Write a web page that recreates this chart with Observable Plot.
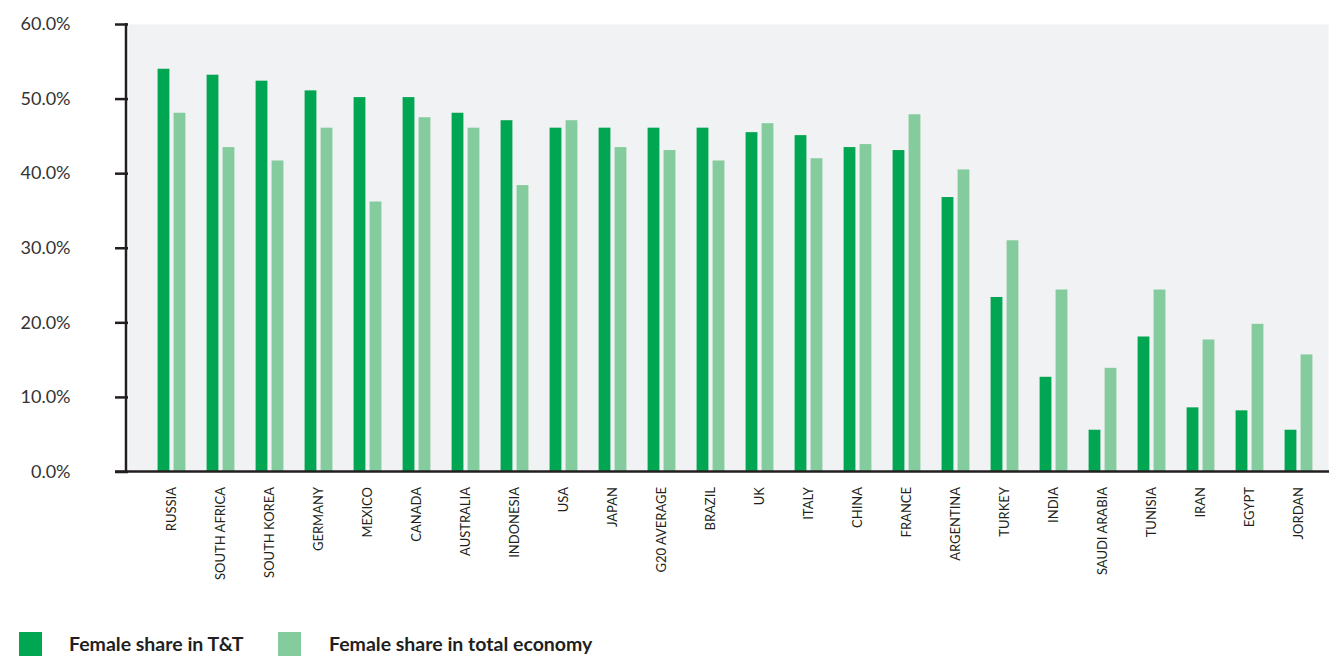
<!DOCTYPE html>
<html>
<head>
<meta charset="utf-8">
<script src="https://cdn.jsdelivr.net/npm/d3@7"></script>
<script src="https://cdn.jsdelivr.net/npm/@observablehq/plot@0.6"></script>
<style>
  html, body { margin: 0; padding: 0; background: #fff; }
  body { width: 1329px; height: 656px; overflow: hidden; font-family: Lato, "Open Sans", sans-serif; }
  #legend { position: relative; height: 31px; }
  .sw { position: absolute; top: 7px; width: 23px; height: 24px; }
  .lt { position: absolute; top: 7px; font-size: 19.5px; line-height: 24px; font-weight: bold; color: #231f20; }
</style>
</head>
<body>
<div id="chart"></div>
<div id="legend">
  <div class="sw" style="left:19px;background:#00a651"></div>
  <div class="lt" style="left:69px">Female share in T&amp;T</div>
  <div class="sw" style="left:278px;background:#84cb9d"></div>
  <div class="lt" style="left:329px">Female share in total economy</div>
</div>
<script>
const countries = ["RUSSIA","SOUTH AFRICA","SOUTH KOREA","GERMANY","MEXICO","CANADA","AUSTRALIA","INDONESIA","USA","JAPAN","G20 AVERAGE","BRAZIL","UK","ITALY","CHINA","FRANCE","ARGENTINA","TURKEY","INDIA","SAUDI ARABIA","TUNISIA","IRAN","EGYPT","JORDAN"];
const shareTT =    [54.0,53.2,52.4,51.1,50.2,50.2,48.1,47.1,46.1,46.1,46.1,46.1,45.5,45.1,43.5,43.1,36.8,23.4,12.7,5.6,18.1,8.6,8.2,5.6];
const shareTotal = [48.1,43.5,41.7,46.1,36.2,47.5,46.1,38.4,47.1,43.5,43.1,41.7,46.7,42.0,43.9,47.9,40.5,31.0,24.4,13.9,24.4,17.7,19.8,15.7];
const yTicks = [0,10,20,30,40,50,60];
const seriesNames = ["Female share in T&T","Female share in total economy"];
const colors = ["#00a651","#84cb9d"];

const tt = countries.map((c,i) => ({country: c, value: shareTT[i]}));
const tot = countries.map((c,i) => ({country: c, value: shareTotal[i]}));

const W = 1329, H = 625;
const axisColor = "#231f20";

const axisLines = (index, scales, values, dims) => {
  const g = d3.create("svg:g");
  const y0 = scales.y(0), yTop = scales.y(60);
  g.append("line").attr("x1", 126).attr("x2", 126).attr("y1", yTop - 1).attr("y2", y0 + 1)
    .attr("stroke", axisColor).attr("stroke-width", 2.5);
  g.append("line").attr("x1", 115).attr("x2", dims.width).attr("y1", y0).attr("y2", y0)
    .attr("stroke", axisColor).attr("stroke-width", 2.5);
  return g.node();
};

const bw = 49.2;
const plot = Plot.plot({
  width: W,
  height: H,
  marginLeft: 128,
  marginRight: 1,
  marginTop: 24,
  marginBottom: 153.5,
  style: {fontFamily: "Lato, 'Open Sans', sans-serif", background: "#fff"},
  x: {type: "band", domain: countries, range: [144.5, 144.5 + bw * countries.length], padding: 0},
  y: {domain: [0, 60]},
  marks: [
    Plot.frame({fill: "#f1f2f4", stroke: null}),
    Plot.barY(tt, {x: "country", y: "value", fill: colors[0], insetLeft: 10.6, insetRight: 26.6}),
    Plot.barY(tot, {x: "country", y: "value", fill: colors[1], insetLeft: 26.6, insetRight: 10.6}),
    Plot.axisY({ticks: yTicks, tickFormat: d => d.toFixed(1) + "%", tickSize: 13, tickPadding: 45,
      fontSize: 18, stroke: axisColor, strokeWidth: 2.5, color: "#333", label: null}),
    Plot.axisX({tickRotate: -90, tickSize: 0, tickPadding: 15, fontSize: 13, color: "#231f20", label: null}),
    axisLines
  ]
});
document.getElementById("chart").appendChild(plot);
</script>
</body>
</html>
